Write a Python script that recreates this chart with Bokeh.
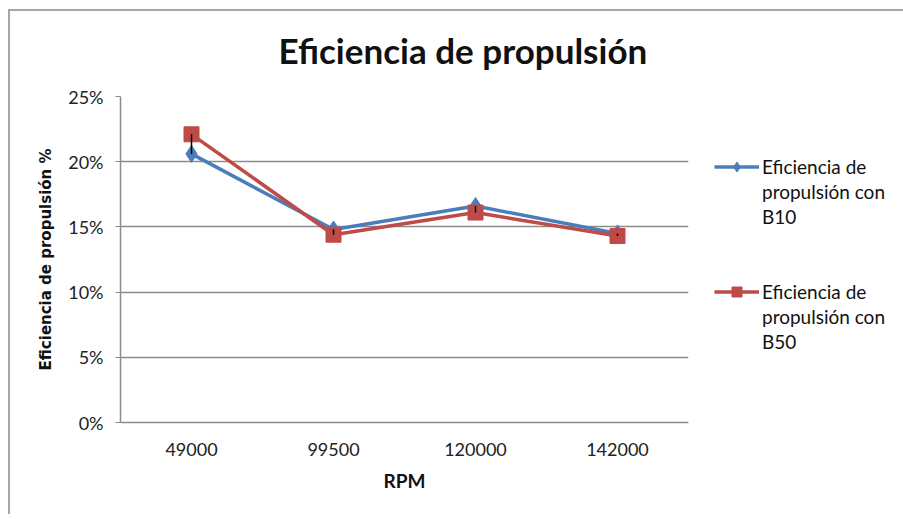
from bokeh.plotting import figure
from bokeh.models import (FixedTicker, PrintfTickFormatter, Legend, LegendItem,
                          Range1d, Title)
from bokeh.embed import file_html
from bokeh.resources import INLINE

categories = ["49000", "99500", "120000", "142000"]
b10 = [20.6, 14.8, 16.6, 14.5]
b50 = [22.1, 14.4, 16.1, 14.3]
y_ticks = [0, 5, 10, 15, 20, 25]
title_text = "Eficiencia de propulsión"
x_label = "RPM"
y_label = "Eficiencia de propulsión %"
label_b10 = ["Eficiencia de", "propulsión con", "B10"]
label_b50 = ["Eficiencia de", "propulsión con", "B50"]

BLUE = "#4A7EBB"
RED = "#BE4B48"
FONT = "Lato"
FRAME_LINE = "#a6a6a6"

p = figure(frame_width=568, frame_height=326, x_range=categories,
           y_range=Range1d(0, 25),
           output_backend="svg", toolbar_location=None,
           min_border_left=120, min_border_right=0,
           min_border_top=96, min_border_bottom=92)
# outer chart-area frame (left and top edges), drawn behind the transparent canvas
p.styles = {
    "background":
        f"linear-gradient({FRAME_LINE}, {FRAME_LINE}) 8px 9px / calc(100% - 8px) 2px no-repeat, "
        f"linear-gradient({FRAME_LINE}, {FRAME_LINE}) 8px 9px / 2px calc(100% - 9px) no-repeat, "
        "white"
}
p.border_fill_color = None

t = Title(text=title_text, align="left", offset=158, text_font=FONT,
          text_font_size="35px", text_font_style="bold", text_color="#111111",
          standoff=52)
p.add_layout(t, "above")

p.outline_line_color = None
p.background_fill_color = "white"

p.xgrid.grid_line_color = None
p.ygrid.grid_line_color = "#8c8c8c"
p.ygrid.grid_line_width = 1.5
p.yaxis.ticker = FixedTicker(ticks=y_ticks)
p.yaxis.formatter = PrintfTickFormatter(format="%d%%")

for ax in (p.xaxis[0], p.yaxis[0]):
    ax.axis_line_color = "#8c8c8c"
    ax.axis_line_width = 1.5
    ax.major_tick_line_color = "#8c8c8c"
    ax.minor_tick_line_color = None
    ax.major_label_text_font = FONT
    ax.major_label_text_font_size = "18px"
    ax.major_label_text_color = "#222222"
    ax.axis_label_text_color = "#111111"

p.yaxis.major_tick_out = 5
p.yaxis.major_tick_in = 0
p.yaxis.major_label_standoff = 12
p.yaxis.axis_label = y_label
p.yaxis.axis_label_text_font = "DejaVu Sans"
p.yaxis.axis_label_text_font_size = "15px"
p.yaxis.axis_label_text_font_style = "bold"
p.yaxis.axis_label_standoff = 10
p.xaxis.major_tick_out = 0
p.xaxis.major_tick_in = 0
p.xaxis.major_label_standoff = 20
p.xaxis.axis_label = x_label
p.xaxis.axis_label_text_font = FONT
p.xaxis.axis_label_text_font_size = "19px"
p.xaxis.axis_label_text_font_style = "bold"
p.xaxis.axis_label_standoff = 10

l1 = p.line(categories, b10, line_color=BLUE, line_width=3.5)
s1 = p.scatter(categories, b10, marker="diamond", size=17, fill_color=BLUE,
               line_color=BLUE)
l2 = p.line(categories, b50, line_color=RED, line_width=3.5)
s2 = p.scatter(categories, b50, marker="square", size=15, fill_color=RED,
               line_color=RED)
p.segment(x0=categories, y0=b10, x1=categories, y1=b50, line_color="black",
          line_width=1.5)

dummy = p.scatter([], [], fill_alpha=0, line_alpha=0)

items = [LegendItem(label="\u00a0", renderers=[dummy]),
         LegendItem(label="\u00a0\u00a0", renderers=[dummy]),
         LegendItem(label=label_b10[0], renderers=[l1, s1]),
         LegendItem(label=label_b10[1], renderers=[dummy]),
         LegendItem(label=label_b10[2], renderers=[dummy]),
         LegendItem(label="\u00a0\u00a0\u00a0", renderers=[dummy]),
         LegendItem(label="\u00a0\u00a0\u00a0\u00a0", renderers=[dummy]),
         LegendItem(label=label_b50[0], renderers=[l2, s2]),
         LegendItem(label=label_b50[1], renderers=[dummy]),
         LegendItem(label=label_b50[2], renderers=[dummy])]
legend = Legend(items=items, location="top_left", padding=0, margin=8,
                spacing=0, glyph_width=45, glyph_height=25, label_height=25,
                label_standoff=3, border_line_color=None,
                title="\u00a0", title_location="left",
                title_text_font_size="1px", title_standoff=17,
                background_fill_alpha=0, label_text_font=FONT,
                label_text_font_size="19px", label_text_color="#111111")
p.add_layout(legend, "right")

open("out.html", "w").write(file_html(p, INLINE))
